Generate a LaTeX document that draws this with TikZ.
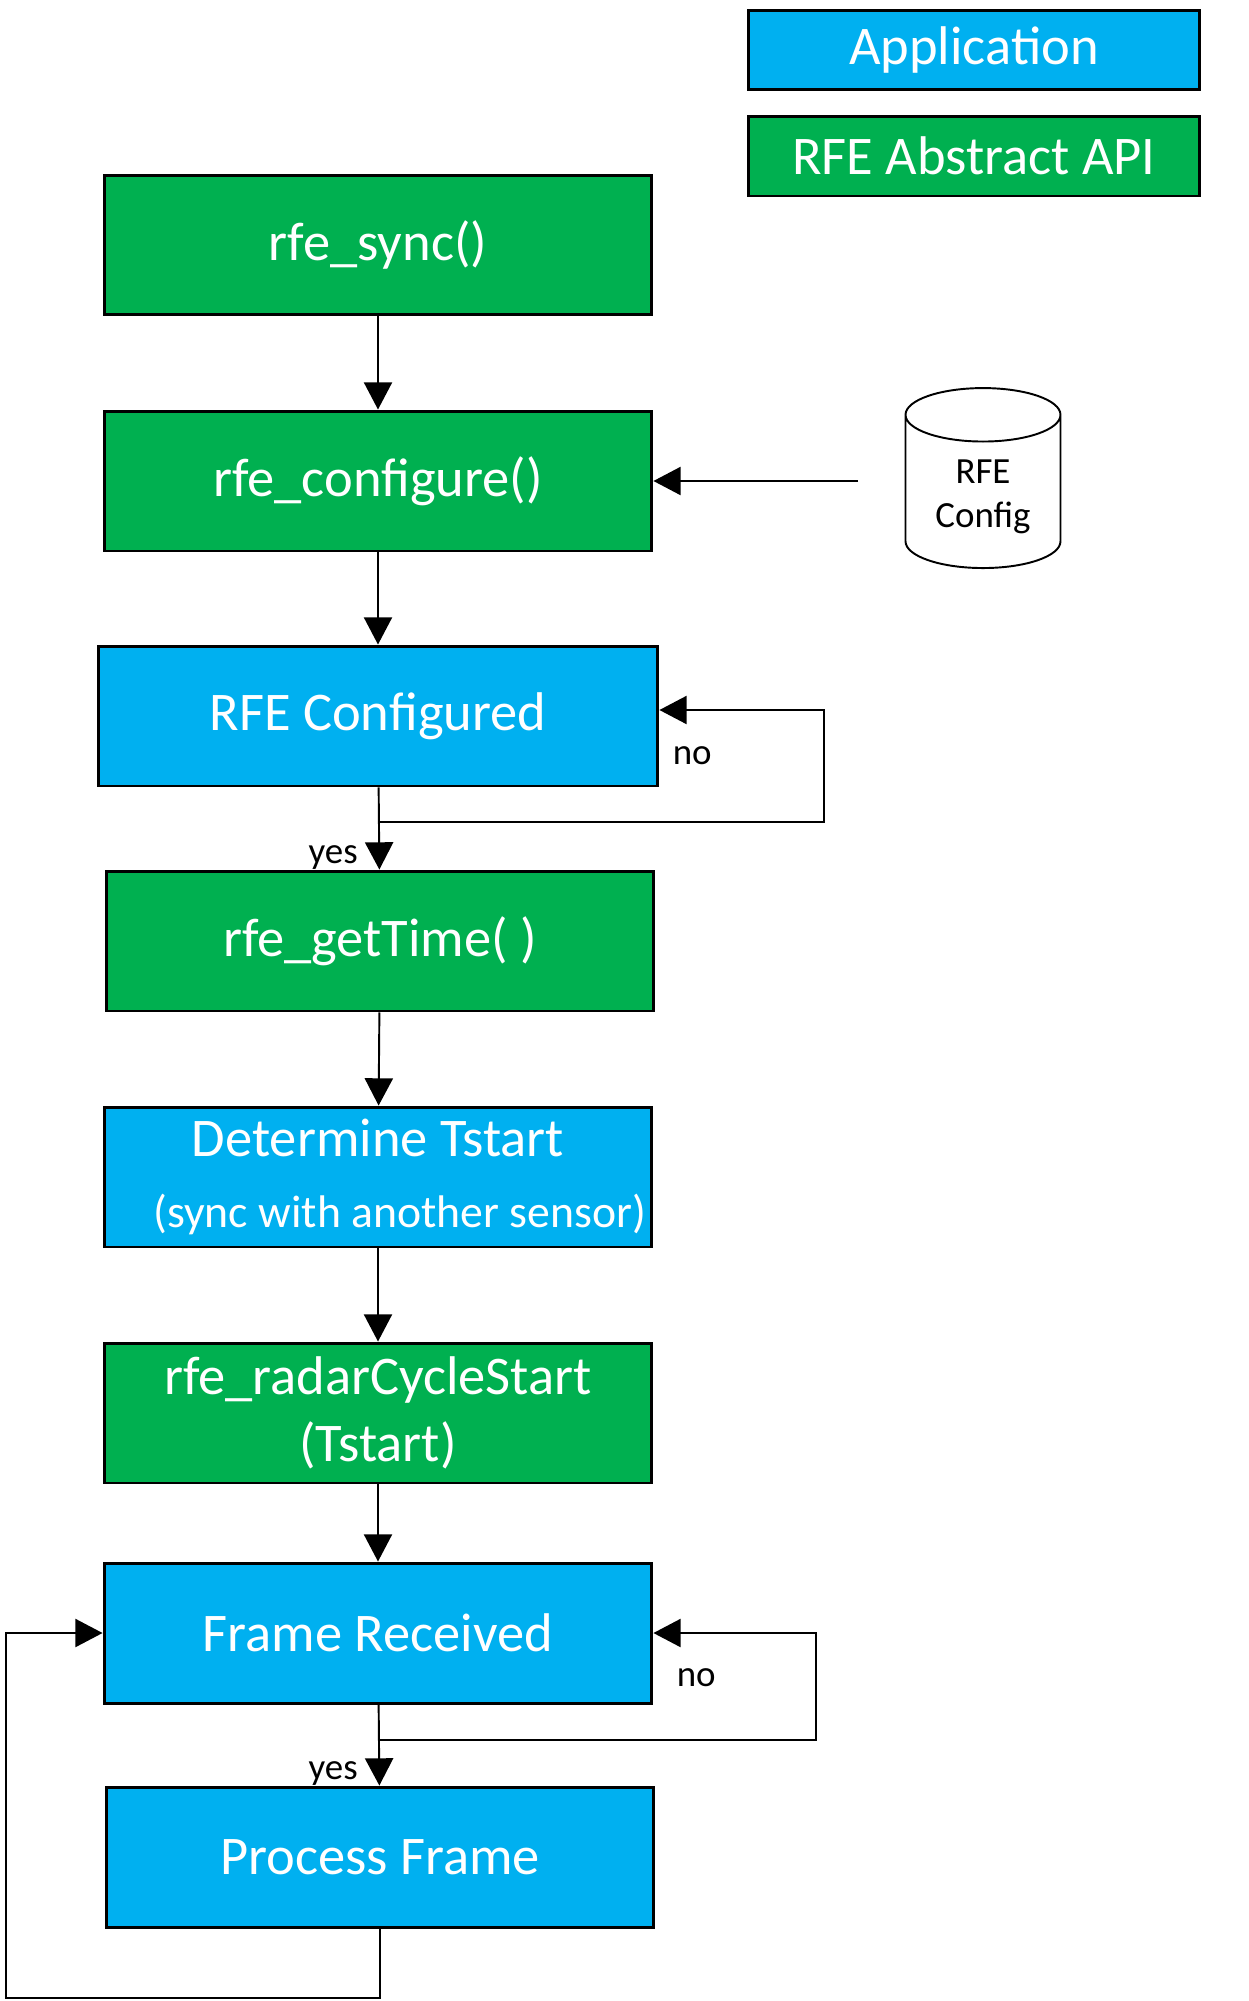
\documentclass[tikz,border=0pt]{standalone}
\usepackage{fontspec}
\setmainfont{Carlito}
\usetikzlibrary{arrows.meta,shapes.geometric}
\definecolor{apigreen}{RGB}{0,176,80}
\definecolor{appblue}{RGB}{0,176,240}

\begin{document}
\begin{tikzpicture}[x=0.02cm,y=-0.02cm,
  box/.style={draw=black,line width=1.7pt,minimum width=10.96cm,minimum height=2.8cm,
    text=white,font=\fontsize{31}{38}\selectfont,align=center,inner sep=0pt},
  api/.style={box,fill=apigreen},
  app/.style={box,fill=appblue},
  legend/.style={minimum width=9.04cm,minimum height=1.6cm},
  arr/.style={line width=1.1pt,-{Triangle[length=15.5pt,width=16pt]}},
  lbl/.style={font=\fontsize{21}{25}\selectfont,inner sep=0pt}]
\useasboundingbox (0,0) rectangle (1248,2001);

% legend
\node[app,legend] (legapp) at (974,50) {Application};
\node[api,legend] (legapi) at (974,156) {RFE Abstract API};

% flow
\node[api] (sync) at (378,245) {rfe\_sync()};
\node[api] (configure) at (378,481) {rfe\_configure()};
\node[app,minimum width=11.2cm] (configured) at (378,716) {RFE Configured};
\node[api] (gettime) at (380,941) {rfe\_getTime( )};
\node[app] (tstart) at (378,1177) {Determine Tstart\\[2pt]{\fontsize{26}{31}\selectfont\hspace*{0.95em}(sync with another sensor)}};
\node[api] (cycle) at (378,1413) {rfe\_radarCycleStart\\(Tstart)};
\node[app] (frame) at (378,1633) {Frame Received};
\node[app] (process) at (380,1857) {Process Frame};

\node[cylinder,shape border rotate=90,draw,line width=1.1pt,aspect=0.5,
  minimum width=3.1cm,minimum height=3.6cm,align=center,
  font=\fontsize{21}{25}\selectfont] (rfecfg) at (983,497) {RFE\\Config};
\coordinate (cfgin) at (858,481);

\draw[arr] (sync) -- (configure);
\draw[arr] (cfgin) -- (configure.east);
\draw[arr] (configure) -- (configured);
\draw[arr] (configured) -- (gettime);
\node[lbl,anchor=south east] (yes1) at ([xshift=-0.44cm]gettime.north) {yes};
\coordinate (split1) at (378,822);
\draw[arr] (split1) -- (824,822) |- ([yshift=0.12cm]configured.east);
\node[lbl,anchor=base west] (no1) at ([xshift=0.26cm,yshift=-0.96cm]configured.east) {no};
\draw[arr] (gettime) -- (tstart);
\draw[arr] (tstart) -- (cycle);
\draw[arr] (cycle) -- (frame);
\draw[arr] (frame) -- (process);
\node[lbl,anchor=south east] (yes2) at ([xshift=-0.44cm]process.north) {yes};
\coordinate (split2) at (378,1740);
\draw[arr] (split2) -- (816,1740) |- (frame.east);
\node[lbl,anchor=base west] (no2) at ([xshift=0.46cm,yshift=-1.06cm]frame.east) {no};
\draw[arr] (process.south) |- (6,1998) |- (frame.west);
\end{tikzpicture}
\end{document}
